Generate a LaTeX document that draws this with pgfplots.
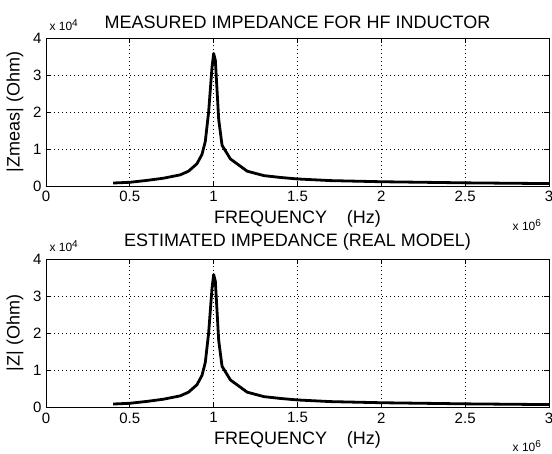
\documentclass[border=0pt]{standalone}
\usepackage{fontspec}
\setmainfont{Liberation Sans}
\usepackage{pgfplots}
\pgfplotsset{compat=1.18}
\pgfplotstableread{
f z
400000 800
500000 1000
600000 1500
700000 2100
800000 3000
850000 4000
900000 6000
930000 8500
950000 12000
970000 20000
990000 32000
1000000 35800
1010000 34000
1020000 26000
1030000 18000
1050000 11000
1100000 7300
1200000 4000
1300000 2800
1400000 2300
1500000 1900
1700000 1450
2000000 1150
2250000 1000
2500000 850
2750000 750
3000000 650
}\measured
\pgfplotstableread{
f z
400000 800
500000 1000
600000 1500
700000 2100
800000 3000
850000 4000
900000 6000
930000 8500
950000 12000
970000 20000
990000 32000
1000000 35800
1010000 34000
1020000 26000
1030000 18000
1050000 11000
1100000 7300
1200000 4000
1300000 2800
1400000 2300
1500000 1900
1700000 1450
2000000 1150
2250000 1000
2500000 850
2750000 750
3000000 650
}\estimated
\pgfplotsset{
  mystyle/.style={
    scale only axis, width=503pt, height=148pt,
    anchor=south west,
    xmin=0, xmax=3000000, ymin=0, ymax=40000,
    scaled ticks=false,
    xtick={0,500000,1000000,1500000,2000000,2500000,3000000},
    xticklabels={0,0.5,1,1.5,2,2.5,3},
    ytick={0,10000,20000,30000,40000},
    yticklabels={0,1,2,3,4},
    tick align=inside, tick pos=both, major tick length=5pt,
    xmajorgrids, ymajorgrids,
    grid style={black, line width=0.8pt, dash pattern=on 1pt off 3pt},
    axis line style={black, line width=0.8pt},
    every tick/.style={black, line width=0.8pt},
    tick label style={font=\fontsize{15}{17}\selectfont},
    xticklabel style={yshift=-2pt},
    yticklabel style={xshift=-1pt},
    clip=false,
  }
}
\begin{document}
\begin{tikzpicture}[x=1pt,y=1pt]
\useasboundingbox (0,0) rectangle (552,454);
\begin{axis}[mystyle, at={(46pt,268pt)}]
\addplot[black, line width=2.8pt, line join=round] table[x=f,y=z] {\measured};
\node[font=\fontsize{18}{20}\selectfont] at (axis description cs:0.5,1) [yshift=16pt] {MEASURED IMPEDANCE FOR HF INDUCTOR};
\node[font=\fontsize{18}{20}\selectfont] at (axis description cs:0.5,0) [yshift=-33pt] {FREQUENCY\hspace{1.1em}(Hz)};
\node[font=\fontsize{18}{20}\selectfont, xshift=-31pt, rotate=90] at (axis description cs:0,0.5) {|Zmeas| (Ohm)};
\node[font=\fontsize{12}{14}\selectfont, anchor=west] at (axis description cs:0,1) [yshift=13pt] {x 10\textsuperscript{\fontsize{10}{12}\selectfont 4}};
\node[font=\fontsize{12}{14}\selectfont, anchor=east] at (axis description cs:1,0) [yshift=-39pt, xshift=-4pt] {x 10\textsuperscript{\fontsize{10}{12}\selectfont 6}};
\end{axis}
\begin{axis}[mystyle, at={(46pt,47pt)}]
\addplot[black, line width=2.8pt, line join=round] table[x=f,y=z] {\estimated};
\node[font=\fontsize{18}{20}\selectfont] at (axis description cs:0.5,1) [yshift=17pt] {ESTIMATED IMPEDANCE (REAL MODEL)};
\node[font=\fontsize{18}{20}\selectfont] at (axis description cs:0.5,0) [yshift=-33pt] {FREQUENCY\hspace{1.1em}(Hz)};
\node[font=\fontsize{18}{20}\selectfont, xshift=-31pt, rotate=90] at (axis description cs:0,0.5) {|Z| (Ohm)};
\node[font=\fontsize{12}{14}\selectfont, anchor=west] at (axis description cs:0,1) [yshift=13pt] {x 10\textsuperscript{\fontsize{10}{12}\selectfont 4}};
\node[font=\fontsize{12}{14}\selectfont, anchor=east] at (axis description cs:1,0) [yshift=-39pt, xshift=-4pt] {x 10\textsuperscript{\fontsize{10}{12}\selectfont 6}};
\end{axis}
\end{tikzpicture}
\end{document}
